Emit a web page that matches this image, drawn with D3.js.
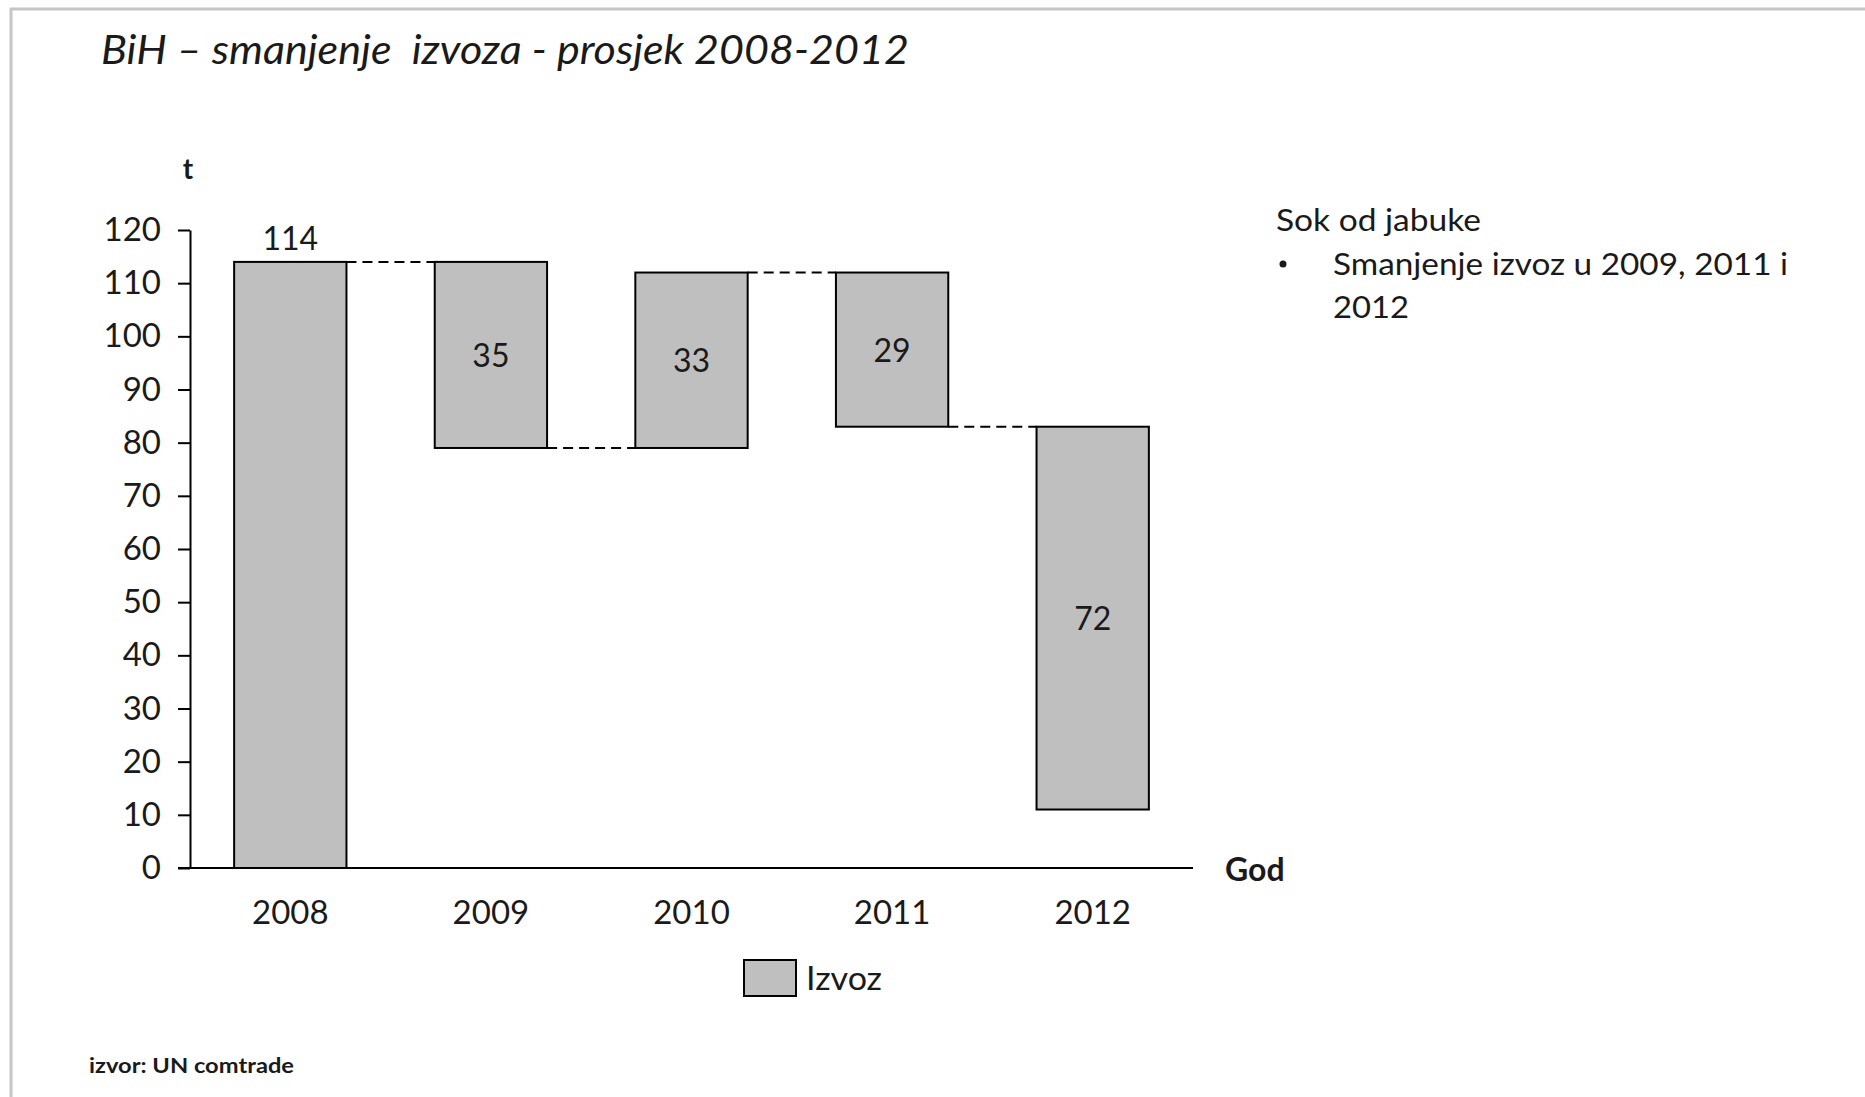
<!DOCTYPE html>
<html>
<head>
<meta charset="utf-8">
<script src="https://cdn.jsdelivr.net/npm/d3@7"></script>
<style>
  html, body { margin: 0; padding: 0; background: #fff; }
  svg { display: block; }
  text { font-family: Lato, "Open Sans", sans-serif; fill: #1a1a1a; }
</style>
</head>
<body>
<svg id="chart" width="1865" height="1097"></svg>
<script>
// ---- data ----
const categories = ["2008", "2009", "2010", "2011", "2012"];
const barStart = [0, 114, 79, 112, 83];
const barEnd = [114, 79, 112, 83, 11];
const barLabels = ["114", "35", "33", "29", "72"];
const yTickValues = [0, 10, 20, 30, 40, 50, 60, 70, 80, 90, 100, 110, 120];
const titleText = "BiH – smanjenje  izvoza - prosjek 2008-2012";
const noteTitle = "Sok od jabuke";
const noteLines = ["Smanjenje izvoz u 2009, 2011 i", "2012"];
const legendLabel = "Izvoz";
const sourceText = "izvor: UN comtrade";

const svg = d3.select("#chart");

// frame
svg.append("path")
  .attr("d", "M11,1097 V9 H1865")
  .attr("fill", "none").attr("stroke", "#c6c6c6").attr("stroke-width", 3);

// title
svg.append("text")
  .attr("x", 101).attr("y", 64)
  .attr("font-size", 40).attr("font-style", "italic")
  .attr("textLength", 808).attr("lengthAdjust", "spacingAndGlyphs")
  .style("white-space", "pre")
  .text(titleText);

// scales
const x = d3.scaleBand().domain(categories).range([190, 1193]).paddingInner(0.44).paddingOuter(0.22);
const y = d3.scaleLinear().domain([0, 120]).range([868, 230]);

// y axis
const yAxis = d3.axisLeft(y).tickValues(yTickValues).tickSize(12).tickPadding(17).tickSizeOuter(0);
const gy = svg.append("g").attr("transform", "translate(190,0)").call(yAxis);
gy.select(".domain").attr("stroke", "#000").attr("stroke-width", 2);
gy.selectAll(".tick line").attr("stroke", "#000").attr("stroke-width", 2);
gy.selectAll(".tick text").attr("font-size", 33).attr("fill", "#1a1a1a")
  .style("font-family", "Lato, sans-serif");

// x axis
const xAxis = d3.axisBottom(x).tickSize(0).tickPadding(33).tickSizeOuter(0);
const gx = svg.append("g").attr("transform", `translate(0,${y(0)})`).call(xAxis);
gx.select(".domain").remove();
gx.selectAll(".tick text").attr("font-size", 33).attr("fill", "#1a1a1a")
  .style("font-family", "Lato, sans-serif");
svg.append("line")
  .attr("x1", 178).attr("x2", 1193).attr("y1", y(0)).attr("y2", y(0))
  .attr("stroke", "#000").attr("stroke-width", 2);

// axis titles
svg.append("text").attr("x", 188).attr("y", 179).attr("text-anchor", "middle")
  .attr("font-size", 28).attr("font-weight", "bold").text("t");
svg.append("text").attr("x", 1225).attr("y", 881)
  .attr("font-size", 32).attr("font-weight", "bold").text("God");

// connectors
const connectors = categories.slice(0, -1).map((c, i) => ({
  x1: x(c) + x.bandwidth(), x2: x(categories[i + 1]), v: barEnd[i]
}));
svg.append("g").selectAll("line").data(connectors).join("line")
  .attr("x1", d => d.x1).attr("x2", d => d.x2)
  .attr("y1", d => y(d.v)).attr("y2", d => y(d.v))
  .attr("stroke", "#000").attr("stroke-width", 2).attr("stroke-dasharray", "10,6");

// bars
const bars = categories.map((c, i) => ({ c, s: barStart[i], e: barEnd[i], label: barLabels[i], i }));
svg.append("g").selectAll("rect").data(bars).join("rect")
  .attr("x", d => x(d.c)).attr("width", x.bandwidth())
  .attr("y", d => y(Math.max(d.s, d.e)))
  .attr("height", d => Math.abs(y(d.s) - y(d.e)))
  .attr("fill", "#bfbfbf").attr("stroke", "#000").attr("stroke-width", 2);

// labels
svg.append("g").selectAll("text").data(bars).join("text")
  .attr("x", d => x(d.c) + x.bandwidth() / 2)
  .attr("y", d => d.i === 0 ? y(d.e) - 12 : (y(d.s) + y(d.e)) / 2 + 12)
  .attr("text-anchor", "middle").attr("font-size", 32)
  .text(d => d.label);

// legend
svg.append("rect").attr("x", 744).attr("y", 960).attr("width", 52).attr("height", 36)
  .attr("fill", "#bfbfbf").attr("stroke", "#000").attr("stroke-width", 2);
svg.append("text").attr("x", 806).attr("y", 990).attr("font-size", 33)
  .attr("textLength", 76).attr("lengthAdjust", "spacingAndGlyphs").text(legendLabel);

// note text
svg.append("text").attr("x", 1276).attr("y", 231).attr("font-size", 31)
  .attr("textLength", 205).attr("lengthAdjust", "spacingAndGlyphs").text(noteTitle);
svg.append("circle").attr("cx", 1283).attr("cy", 264).attr("r", 3.5).attr("fill", "#1a1a1a");
const noteLens = [455, 76];
svg.append("g").selectAll("text").data(noteLines).join("text")
  .attr("x", 1333).attr("y", (d, i) => 275 + i * 43)
  .attr("font-size", 31)
  .attr("textLength", (d, i) => noteLens[i]).attr("lengthAdjust", "spacingAndGlyphs")
  .text(d => d);

// source
svg.append("text").attr("x", 89).attr("y", 1073).attr("font-size", 20).attr("font-weight", "bold")
  .attr("textLength", 205).attr("lengthAdjust", "spacingAndGlyphs").text(sourceText);
</script>
</body>
</html>
